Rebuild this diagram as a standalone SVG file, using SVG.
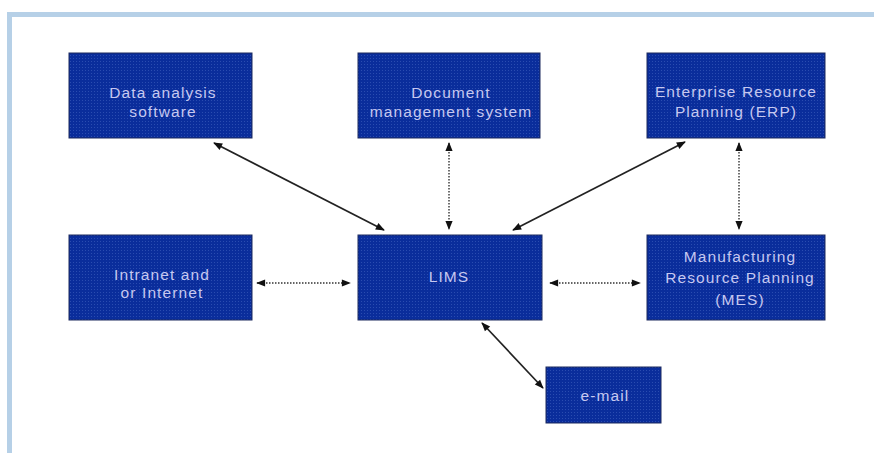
<svg xmlns="http://www.w3.org/2000/svg" width="874" height="453" viewBox="0 0 874 453">
<defs>
<pattern id="dots" width="3" height="3" patternUnits="userSpaceOnUse">
<rect width="3" height="3" fill="#0a2d9b"/>
<rect x="1" y="1" width="1" height="1" fill="#2a4cb0"/>
</pattern>
<marker id="ah" viewBox="0 0 10 10" refX="9" refY="5" markerWidth="10" markerHeight="9" markerUnits="userSpaceOnUse" orient="auto-start-reverse">
<path d="M0,1 L10,5 L0,9 z" fill="#111"/>
</marker>
</defs>
<style>
.box{fill:url(#dots);stroke:#1c2b5e;stroke-width:1}
.lbl{font-family:"Liberation Sans",Arial,sans-serif;font-size:15.5px;letter-spacing:1.1px;fill:#c6c8f0;text-anchor:middle}
.solid{stroke:#222;stroke-width:1.7;fill:none;marker-start:url(#ah);marker-end:url(#ah)}
.dot{stroke:#333;stroke-width:1.4;stroke-dasharray:1.5 1.5;fill:none;marker-start:url(#ah);marker-end:url(#ah)}
</style>
<rect width="874" height="453" fill="#fff"/>
<g id="frame">
<rect x="7" y="12" width="867" height="5" fill="#b6d0e7"/>
<rect x="7" y="12" width="5" height="441" fill="#b6d0e7"/>
</g>
<g id="connectors">
<line class="solid" x1="214" y1="143" x2="384" y2="230"/>
<line class="dot" x1="449" y1="143" x2="449" y2="229"/>
<line class="solid" x1="685" y1="142" x2="513" y2="230"/>
<line class="dot" x1="739" y1="143" x2="739" y2="229"/>
<line class="dot" x1="257" y1="283" x2="350" y2="283"/>
<line class="dot" x1="550" y1="283" x2="640" y2="283"/>
<line class="solid" x1="482" y1="323" x2="543" y2="388"/>
</g>
<g id="data-analysis">
<rect class="box" x="69" y="53" width="183" height="85"/>
<text class="lbl" x="163" y="98">Data analysis</text>
<text class="lbl" x="163" y="117">software</text>
</g>
<g id="document">
<rect class="box" x="358" y="53" width="182" height="85"/>
<text class="lbl" x="451" y="98">Document</text>
<text class="lbl" x="451" y="117">management system</text>
</g>
<g id="erp">
<rect class="box" x="647" y="53" width="178" height="85"/>
<text class="lbl" x="736" y="97">Enterprise Resource</text>
<text class="lbl" x="736" y="117">Planning (ERP)</text>
</g>
<g id="intranet">
<rect class="box" x="69" y="235" width="183" height="85"/>
<text class="lbl" x="162" y="280">Intranet and</text>
<text class="lbl" x="162" y="298">or Internet</text>
</g>
<g id="lims">
<rect class="box" x="358" y="235" width="184" height="85"/>
<text class="lbl" x="449" y="282">LIMS</text>
</g>
<g id="mes">
<rect class="box" x="647" y="235" width="178" height="85"/>
<text class="lbl" x="740" y="262">Manufacturing</text>
<text class="lbl" x="740" y="283">Resource Planning</text>
<text class="lbl" x="740" y="305">(MES)</text>
</g>
<g id="email">
<rect class="box" x="546" y="367" width="115" height="56"/>
<text class="lbl" x="605" y="401">e-mail</text>
</g>
</svg>
